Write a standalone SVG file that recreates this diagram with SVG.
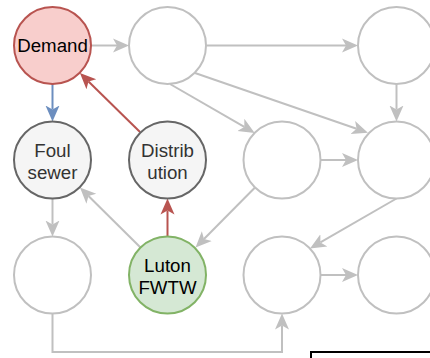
<svg xmlns="http://www.w3.org/2000/svg" width="430" height="358" viewBox="0 0 430 358">
  <style>
    .node { stroke-width: 2; }
    .empty { fill: #ffffff; stroke: #c0c0c0; }
    .grey { fill: #f5f5f5; stroke: #666666; }
    .red { fill: #f8cecc; stroke: #b85450; }
    .green { fill: #d5e8d4; stroke: #82b366; }
    .label { font-family: "Liberation Sans", Arial, Helvetica, sans-serif; font-size: 18.7px; text-anchor: middle; }
    .dark { fill: #333333; }
    .black { fill: #000000; }
    .edge { fill: none; stroke-width: 2; }
    .e-grey { stroke: #c0c0c0; }
    .e-red { stroke: #b85450; }
    .e-blue { stroke: #6c8ebf; }
  </style>
  <defs>
    <marker id="arrow-grey" markerUnits="userSpaceOnUse" markerWidth="20" markerHeight="20" viewBox="0 -10 20 20" refX="4" refY="0" orient="auto">
      <path d="M0,-7 L16,0 L0,7 L4,0 Z" fill="#c0c0c0"/>
    </marker>
    <marker id="arrow-red" markerUnits="userSpaceOnUse" markerWidth="20" markerHeight="20" viewBox="0 -10 20 20" refX="4" refY="0" orient="auto">
      <path d="M0,-7 L16,0 L0,7 L4,0 Z" fill="#b85450"/>
    </marker>
    <marker id="arrow-blue" markerUnits="userSpaceOnUse" markerWidth="20" markerHeight="20" viewBox="0 -10 20 20" refX="4" refY="0" orient="auto">
      <path d="M0,-7 L16,0 L0,7 L4,0 Z" fill="#6c8ebf"/>
    </marker>
  </defs>

  <!-- connectors -->
  <g id="connectors">
    <path class="edge e-grey" d="M91,45.5 L117,45.5" marker-end="url(#arrow-grey)"/>
    <path class="edge e-grey" d="M206.5,45.5 L346,45.5" marker-end="url(#arrow-grey)"/>
    <path class="edge e-grey" d="M396.5,84 L396.5,109.5" marker-end="url(#arrow-grey)"/>
    <path class="edge e-grey" d="M170,84 L244.3,126.9" marker-end="url(#arrow-grey)"/>
    <path class="edge e-grey" d="M195,73 L356.6,128.8" marker-end="url(#arrow-grey)"/>
    <path class="edge e-grey" d="M320.5,160 L346,160" marker-end="url(#arrow-grey)"/>
    <path class="edge e-grey" d="M255,187.5 L204,239" marker-end="url(#arrow-grey)"/>
    <path class="edge e-grey" d="M396.5,198.5 L320.4,242.4" marker-end="url(#arrow-grey)"/>
    <path class="edge e-grey" d="M320.5,275 L346,275" marker-end="url(#arrow-grey)"/>
    <path class="edge e-grey" d="M52.5,198.5 L52.5,224.5" marker-end="url(#arrow-grey)"/>
    <path class="edge e-grey" d="M52.5,313.5 L52.5,352 L282,352 L282,325.5" marker-end="url(#arrow-grey)"/>
    <path class="edge e-grey" d="M140.5,247.5 L88.5,196" marker-end="url(#arrow-grey)"/>
    <path class="edge e-red" d="M167.5,236.5 L167.5,210.5" marker-end="url(#arrow-red)"/>
    <path class="edge e-red" d="M140,132 L88.5,81.5" marker-end="url(#arrow-red)"/>
    <path class="edge e-blue" d="M52.5,84 L52.5,109.5" marker-end="url(#arrow-blue)"/>
  </g>

  <!-- row 1 -->
  <g id="demand">
    <circle class="node red" cx="52.5" cy="45.5" r="38.5"/>
    <text class="label black" x="52.5" y="52.2">Demand</text>
  </g>
  <g id="node-r1c2">
    <circle class="node empty" cx="167.5" cy="45.5" r="38.5"/>
  </g>
  <g id="node-r1c4">
    <circle class="node empty" cx="396.5" cy="45.5" r="38.5"/>
  </g>

  <!-- row 2 -->
  <g id="foul-sewer">
    <circle class="node grey" cx="52.5" cy="160" r="38.5"/>
    <text class="label dark" x="52.5" y="157">Foul</text>
    <text class="label dark" x="52.5" y="178.5">sewer</text>
  </g>
  <g id="distribution">
    <circle class="node grey" cx="167.5" cy="160" r="38.5"/>
    <text class="label dark" x="167.5" y="157">Distrib</text>
    <text class="label dark" x="167.5" y="178.5">ution</text>
  </g>
  <g id="node-r2c3">
    <circle class="node empty" cx="282" cy="160" r="38.5"/>
  </g>
  <g id="node-r2c4">
    <circle class="node empty" cx="396.5" cy="160" r="38.5"/>
  </g>

  <!-- row 3 -->
  <g id="node-r3c1">
    <circle class="node empty" cx="52.5" cy="275" r="38.5"/>
  </g>
  <g id="luton-fwtw">
    <circle class="node green" cx="167.5" cy="275" r="38.5"/>
    <text class="label black" x="167.5" y="272">Luton</text>
    <text class="label black" x="167.5" y="293.5">FWTW</text>
  </g>
  <g id="node-r3c3">
    <circle class="node empty" cx="282" cy="275" r="38.5"/>
  </g>
  <g id="node-r3c4">
    <circle class="node empty" cx="396.5" cy="275" r="38.5"/>
  </g>

  <!-- box at lower right edge -->
  <g id="box">
    <rect x="311" y="352" width="130" height="20" fill="#ffffff" stroke="#000000" stroke-width="2"/>
  </g>
</svg>
